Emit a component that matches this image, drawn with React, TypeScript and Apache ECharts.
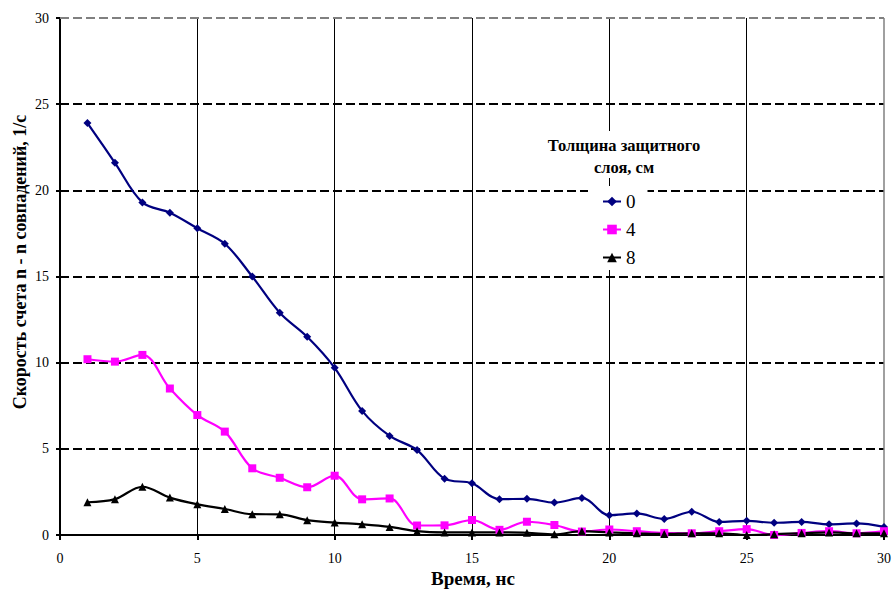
import React, { useEffect, useRef } from "react";
import * as echarts from "echarts";

const timeNs = [1,2,3,4,5,6,7,8,9,10,11,12,13,14,15,16,17,18,19,20,21,22,23,24,25,26,27,28,29,30];
const series0 = [23.9,21.6,19.3,18.7,17.8,16.9,15.0,12.9,11.5,9.7,7.2,5.75,4.93,3.27,3.0,2.08,2.1,1.88,2.15,1.15,1.25,0.93,1.35,0.76,0.82,0.71,0.76,0.62,0.67,0.47];
const series4 = [10.2,10.06,10.45,8.5,6.96,6.0,3.87,3.32,2.77,3.44,2.07,2.12,0.55,0.56,0.87,0.3,0.77,0.58,0.2,0.32,0.22,0.12,0.1,0.22,0.34,0.0,0.12,0.22,0.1,0.22];
const series8 = [1.9,2.08,2.8,2.17,1.78,1.51,1.21,1.2,0.86,0.72,0.62,0.47,0.22,0.15,0.15,0.15,0.13,0.04,0.22,0.15,0.1,0.06,0.1,0.1,0.0,0.05,0.1,0.15,0.1,0.1];
const legendNames = ["0", "4", "8"];
const axisMax = 30;
const xTitle = "Время, нс";
const yTitle = "Скорость счета n - n совпадений, 1/с";
const legendTitle = "Толщина защитного\nслоя, см";

const FONT = "'Liberation Serif', serif";

export default function App() {
  const ref = useRef<HTMLDivElement>(null);
  useEffect(() => {
    if (!ref.current) return;
    const chart = echarts.init(ref.current, null, { renderer: "svg" });
    const mk = (arr: number[]) => timeNs.map((t, i) => [t, arr[i]]);
    chart.setOption({
      animation: false,
      backgroundColor: "#fff",
      textStyle: { fontFamily: FONT },
      grid: { left: 60, right: 12, top: 18, bottom: 54, containLabel: false },
      xAxis: {
        type: "value",
        min: 0,
        max: axisMax,
        interval: 5,
        axisLine: { show: true, onZero: false, lineStyle: { color: "#000", width: 2 } },
        axisTick: { show: true, length: 5, lineStyle: { color: "#000", width: 2 } },
        axisLabel: { margin: 16, fontSize: 14, color: "#000", fontFamily: FONT },
        splitLine: {
          show: true,
          showMaxLine: false,
          lineStyle: { color: "#000", width: 1, type: "solid" },
        },
      },
      yAxis: {
        type: "value",
        min: 0,
        max: axisMax,
        interval: 5,
        axisLine: { show: true, lineStyle: { color: "#000", width: 2 } },
        axisTick: { show: true, length: 4, lineStyle: { color: "#000", width: 2 } },
        axisLabel: { margin: 11, fontSize: 14, color: "#000", fontFamily: FONT },
        splitLine: {
          show: true,
          showMaxLine: false,
          lineStyle: { color: "#000", width: 2, type: [9, 4] },
        },
      },
      legend: {
        data: legendNames,
        orient: "vertical",
        left: 588,
        top: 186,
        padding: [6, 12, 3, 14],
        backgroundColor: "#fff",
        itemWidth: 18,
        itemHeight: 12,
        itemGap: 9,
        textStyle: { fontSize: 19, color: "#000", fontFamily: FONT, lineHeight: 16 },
      },
      graphic: [
        { type: "rect", shape: { x: 538, y: 131, width: 172, height: 47 }, style: { fill: "#fff" }, z: 10 },
        {
          type: "text",
          x: 624,
          y: 156,
          z: 11,
          style: {
            text: legendTitle,
            align: "center",
            verticalAlign: "middle",
            font: "bold 16.5px " + FONT,
            lineHeight: 22,
            fill: "#000",
          },
        },
        {
          type: "text",
          x: 473,
          y: 578,
          style: {
            text: xTitle,
            align: "center",
            verticalAlign: "middle",
            font: "bold 19px " + FONT,
            fill: "#000",
          },
        },
        {
          type: "text",
          x: 20,
          y: 262,
          rotation: Math.PI / 2,
          style: {
            text: yTitle,
            align: "center",
            verticalAlign: "middle",
            font: "bold 18px " + FONT,
            fill: "#000",
          },
        },
      ],
      series: [
        {
          name: "0",
          type: "line",
          data: mk(series0),
          smooth: 0.35,
          symbol: "diamond",
          symbolSize: 8,
          lineStyle: { color: "#000080", width: 2.2 },
          itemStyle: { color: "#000080" },
          markLine: {
            silent: true,
            symbol: "none",
            label: { show: false },
            z: 1,
            data: [
              { yAxis: axisMax, lineStyle: { color: "#808080", width: 2, type: [9, 4] } },
              { xAxis: axisMax, lineStyle: { color: "#808080", width: 1.5, type: "solid" } },
            ],
          },
        },
        {
          name: "4",
          type: "line",
          data: mk(series4),
          smooth: 0.35,
          symbol: "rect",
          symbolSize: 8,
          lineStyle: { color: "#ff00ff", width: 2.2 },
          itemStyle: { color: "#ff00ff" },
        },
        {
          name: "8",
          type: "line",
          data: mk(series8),
          smooth: 0.35,
          symbol: "triangle",
          symbolSize: 8,
          lineStyle: { color: "#000", width: 2.2 },
          itemStyle: { color: "#000" },
        },
      ],
    });
    return () => chart.dispose();
  }, []);
  return <div ref={ref} style={{ width: 896, height: 589, position: "absolute", left: 0, top: 0 }} />;
}
